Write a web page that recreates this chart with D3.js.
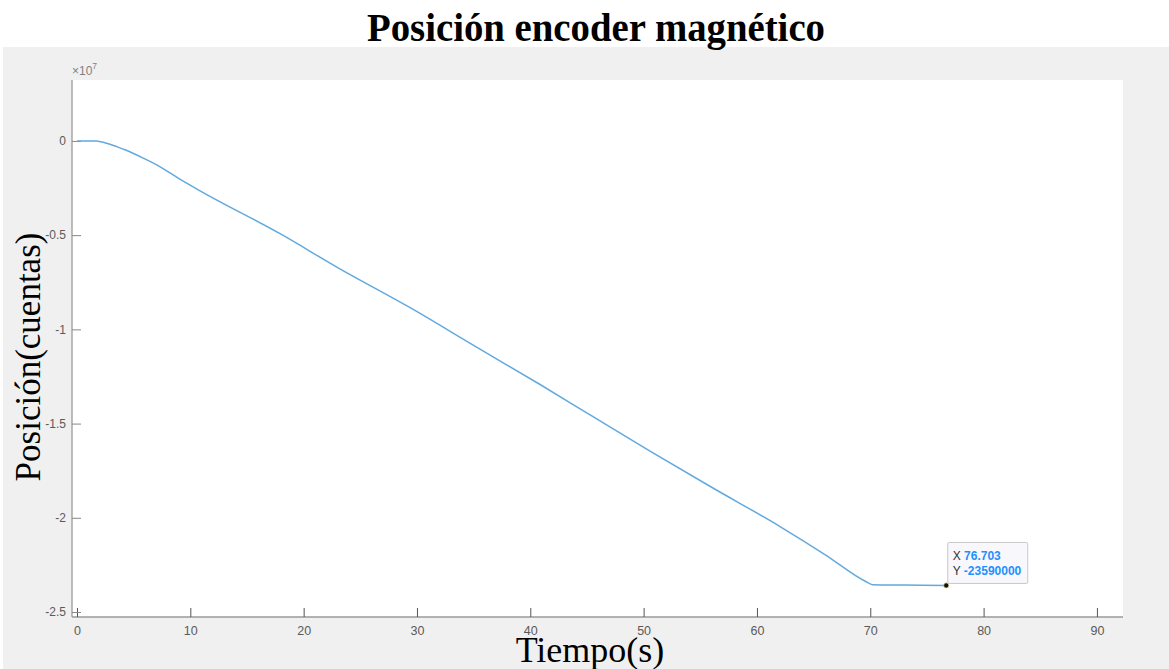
<!DOCTYPE html>
<html>
<head>
<meta charset="utf-8">
<script src="https://cdn.jsdelivr.net/npm/d3@7"></script>
<style>
  html, body { margin: 0; padding: 0; background: #ffffff; }
  svg { display: block; }
</style>
</head>
<body>
<svg id="chart" width="1169" height="669"></svg>
<script>
// Encoder position samples: time (s) and position (counts, in units of 1e7)
const tiempo = [0, 1, 1.7, 2.6, 3.5, 4.4, 5.8, 7.3, 9, 10.9, 18, 23, 29.4, 35, 40.9, 45.5, 50.6, 56, 62, 66, 69.6, 70.2, 73, 76.703];
const posicion = [0, 0, 0, -0.012, -0.03, -0.051, -0.09, -0.136, -0.2, -0.266, -0.495, -0.672, -0.885, -1.085, -1.294, -1.462, -1.647, -1.838, -2.045, -2.195, -2.338, -2.355, -2.357, -2.359];

const xTicks = [0, 10, 20, 30, 40, 50, 60, 70, 80, 90];
const yTicks = [0, -0.5, -1, -1.5, -2, -2.5];
const yTickLabels = ["0", "-0.5", "-1", "-1.5", "-2", "-2.5"];

// Data tip
const tipX = 76.703;
const tipY = -2.359;
const tipLabelY = "-23590000";

const svg = d3.select("#chart");
const W = 1169, H = 669;

// figure background
svg.append("rect").attr("x", 0).attr("y", 0).attr("width", W).attr("height", H).attr("fill", "#ffffff");
svg.append("rect").attr("x", 3).attr("y", 47).attr("width", W - 3).attr("height", H - 47).attr("fill", "#f0f0f0");

const plot = { left: 72, right: 1123, top: 80, bottom: 617 };

const x = d3.scaleLinear().domain([-0.44, 92.3]).range([plot.left, plot.right]);
const y = d3.scaleLinear().domain([-2.5265, 0.3234]).range([plot.bottom, plot.top]);

// axes area
svg.append("rect")
  .attr("x", plot.left).attr("y", plot.top)
  .attr("width", plot.right - plot.left).attr("height", plot.bottom - plot.top)
  .attr("fill", "#ffffff");

const axisColor = "#9a9a9a";
const labelColor = "#5a5a5a";
const tickFont = "Liberation Sans, Arial, sans-serif";

// x axis (ticks pointing inward)
const xAxis = svg.append("g")
  .attr("transform", `translate(0,${plot.bottom})`)
  .call(d3.axisBottom(x).tickValues(xTicks).tickFormat(d3.format("d")).tickSize(-9).tickPadding(9));
xAxis.select(".domain").attr("stroke", axisColor).attr("stroke-width", 1.3)
  .attr("d", `M${plot.left},0H${plot.right}`);
xAxis.selectAll(".tick line").attr("stroke", "#555555").attr("stroke-width", 1);
xAxis.selectAll(".tick text").attr("fill", labelColor).attr("font-family", tickFont).attr("font-size", 12.5);

// y axis (ticks pointing inward)
const yAxis = svg.append("g")
  .attr("transform", `translate(${plot.left},0)`)
  .call(d3.axisLeft(y).tickValues(yTicks).tickFormat((d, i) => yTickLabels[i]).tickSize(-9).tickPadding(6));
yAxis.select(".domain").attr("stroke", axisColor).attr("stroke-width", 1.3)
  .attr("d", `M0,${plot.top}V${plot.bottom}`);
yAxis.selectAll(".tick line").attr("stroke", "#888888").attr("stroke-width", 1);
yAxis.selectAll(".tick text").attr("fill", labelColor).attr("font-family", tickFont).attr("font-size", 12);

// exponent label
const expo = svg.append("text")
  .attr("x", plot.left).attr("y", plot.top - 5)
  .attr("fill", "#808080").attr("font-family", tickFont).attr("font-size", 12);
expo.append("tspan").text("\u00d710");
expo.append("tspan").attr("dy", -6).attr("font-size", 8.5).text("7");

// signal line
const line = d3.line().x((d, i) => x(tiempo[i])).y((d, i) => y(posicion[i])).curve(d3.curveMonotoneX);
svg.append("path")
  .datum(posicion)
  .attr("d", line)
  .attr("fill", "none")
  .attr("stroke", "#62a9de")
  .attr("stroke-width", 1.5);

// data tip marker and box
const px = x(tipX), py = y(tipY);
svg.append("circle").attr("cx", px).attr("cy", py).attr("r", 2.6)
  .attr("fill", "#111111").attr("stroke", "#e8e2a0").attr("stroke-width", 0.8);

const box = svg.append("g").attr("transform", `translate(${px + 1.5},${py - 43})`);
box.append("rect").attr("x", 0).attr("y", 0).attr("width", 80).attr("height", 41).attr("rx", 1.5)
  .attr("fill", "#f8f8fc").attr("stroke", "#c8c8c8").attr("stroke-width", 1);
const t1 = box.append("text").attr("x", 5).attr("y", 18).attr("font-family", tickFont).attr("font-size", 12);
t1.append("tspan").attr("fill", "#333333").text("X ");
t1.append("tspan").attr("fill", "#1e90ff").attr("font-weight", "bold").text(d3.format(".3f")(tipX));
const t2 = box.append("text").attr("x", 5).attr("y", 33).attr("font-family", tickFont).attr("font-size", 12);
t2.append("tspan").attr("fill", "#333333").text("Y ");
t2.append("tspan").attr("fill", "#1e90ff").attr("font-weight", "bold").text(tipLabelY);

// title and axis labels
svg.append("text")
  .attr("x", 596).attr("y", 41)
  .attr("text-anchor", "middle")
  .attr("font-family", "Liberation Serif, Times New Roman, serif")
  .attr("font-weight", "bold").attr("font-size", 39)
  .attr("textLength", 458).attr("lengthAdjust", "spacingAndGlyphs")
  .attr("fill", "#000000")
  .text("Posición encoder magnético");

svg.append("text")
  .attr("x", 590).attr("y", 662)
  .attr("text-anchor", "middle")
  .attr("font-family", "Liberation Serif, Times New Roman, serif")
  .attr("font-size", 36)
  .attr("fill", "#000000")
  .text("Tiempo(s)");

svg.append("text")
  .attr("transform", "translate(40,357) rotate(-90)")
  .attr("text-anchor", "middle")
  .attr("font-family", "Liberation Serif, Times New Roman, serif")
  .attr("font-size", 35)
  .attr("fill", "#000000")
  .text("Posición(cuentas)");
</script>
</body>
</html>
